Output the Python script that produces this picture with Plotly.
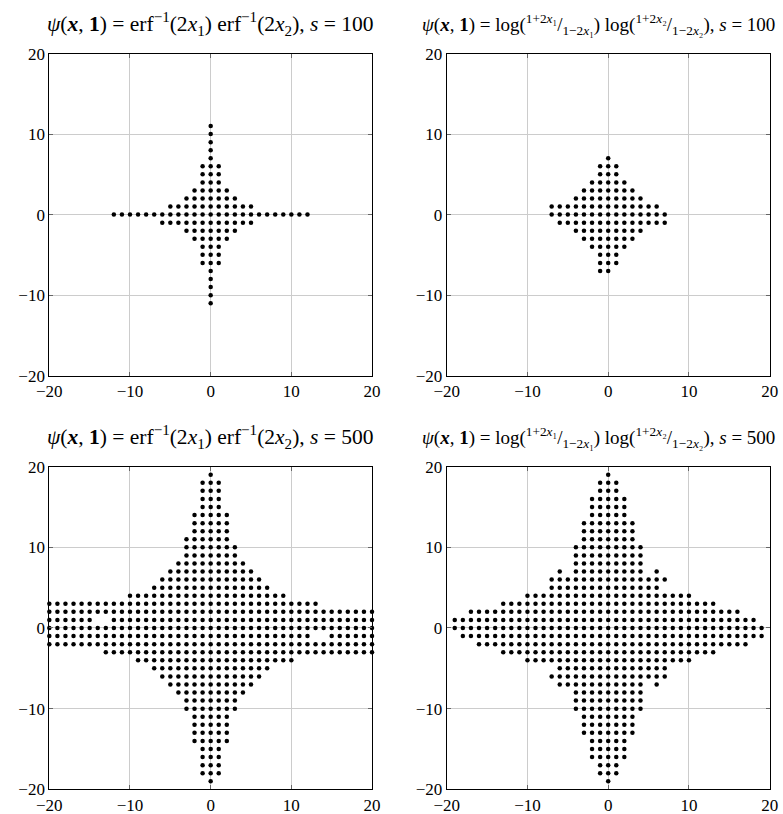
import plotly.graph_objects as go

# lattice points, one entry per row: (y, [(x_from, x_to), ...])
erf_s100 = [
    (11, [(0, 0)]), (10, [(0, 0)]), (9, [(0, 0)]), (8, [(0, 0)]), (7, [(0, 0)]),
    (6, [(-1, 1)]), (5, [(-1, 1)]), (4, [(-1, 1)]), (3, [(-2, 2)]), (2, [(-3, 3)]),
    (1, [(-5, 5)]), (0, [(-12, 12)]), (-1, [(-6, 5)]), (-2, [(-3, 3)]), (-3, [(-2, 2)]),
    (-4, [(-1, 1)]), (-5, [(-1, 1)]), (-6, [(-1, 1)]), (-7, [(0, 0)]), (-8, [(0, 0)]),
    (-9, [(0, 0)]), (-10, [(0, 0)]), (-11, [(0, 0)]),
]

log_s100 = [
    (7, [(0, 0)]), (6, [(-1, 1)]), (5, [(-1, 1)]), (4, [(-2, 2)]), (3, [(-3, 3)]),
    (2, [(-4, 4)]), (1, [(-7, 6)]), (0, [(-7, 7)]), (-1, [(-6, 7)]), (-2, [(-4, 4)]),
    (-3, [(-3, 3)]), (-4, [(-2, 2)]), (-5, [(-1, 1)]), (-6, [(-1, 1)]), (-7, [(-1, 0)]),
]

erf_s500 = [
    (19, [(0, 0)]), (18, [(-1, 1)]), (17, [(-1, 1)]), (16, [(-1, 1)]), (15, [(-1, 1)]),
    (14, [(-2, 2)]), (13, [(-2, 2)]), (12, [(-2, 2)]), (11, [(-3, 2)]), (10, [(-3, 3)]),
    (9, [(-3, 3)]), (8, [(-4, 4)]), (7, [(-5, 5)]), (6, [(-6, 6)]), (5, [(-7, 7)]),
    (4, [(-10, 9)]), (3, [(-20, 13)]), (2, [(-20, 20)]), (1, [(-20, -15), (-12, 20)]),
    (0, [(-20, 20)]), (-1, [(-20, 12), (15, 20)]), (-2, [(-20, 20)]), (-3, [(-13, 20)]),
    (-4, [(-9, 10)]), (-5, [(-7, 7)]), (-6, [(-6, 6)]), (-7, [(-5, 5)]), (-8, [(-4, 4)]),
    (-9, [(-3, 3)]), (-10, [(-3, 3)]), (-11, [(-2, 2)]), (-12, [(-2, 2)]), (-13, [(-2, 2)]),
    (-14, [(-2, 2)]), (-15, [(-1, 1)]), (-16, [(-1, 1)]), (-17, [(-1, 1)]), (-18, [(-1, 1)]),
    (-19, [(0, 0)]),
]

log_s500 = [
    (19, [(0, 0)]), (18, [(-1, 1)]), (17, [(-1, 1)]), (16, [(-2, 2)]), (15, [(-2, 2)]),
    (14, [(-2, 2)]), (13, [(-3, 3)]), (12, [(-3, 3)]), (11, [(-3, 3)]), (10, [(-4, 4)]),
    (9, [(-4, 4)]), (8, [(-4, 4)]), (7, [(-6, -6), (-4, 4), (6, 6)]), (6, [(-7, 7)]),
    (5, [(-7, 6)]), (4, [(-10, 10)]), (3, [(-13, 13)]), (2, [(-17, 16)]), (1, [(-19, 18)]),
    (0, [(-19, 19)]), (-1, [(-18, 19)]), (-2, [(-16, 17)]), (-3, [(-13, 13)]),
    (-4, [(-10, 10)]), (-5, [(-6, 7)]), (-6, [(-7, 7)]), (-7, [(-6, 4), (6, 6)]),
    (-8, [(-4, 4)]), (-9, [(-4, 4)]), (-10, [(-4, 4)]), (-11, [(-3, 3)]), (-12, [(-3, 3)]),
    (-13, [(-3, 3)]), (-14, [(-2, 2)]), (-15, [(-2, 2)]), (-16, [(-2, 2)]),
    (-17, [(-1, 1)]), (-18, [(-1, 1)]), (-19, [(0, 0)]),
]

tick_vals = [-20, -10, 0, 10, 20]

psi = '<i>ψ</i>(<b><i>x</i></b>, <b>1</b>) = '
erf_title = psi + 'erf<sup>−1</sup>(2<i>x</i><sub>1</sub>) erf<sup>−1</sup>(2<i>x</i><sub>2</sub>), <i>s</i> = '
log_title = (psi + 'log(<sup>1+2<i>x</i>₁</sup>/<sub>1−2<i>x</i>₁</sub>) '
             'log(<sup>1+2<i>x</i>₂</sup>/<sub>1−2<i>x</i>₂</sub>), <i>s</i> = ')

# (rows, title, title size, title x, x domain, y domain)
panels = [
    (erf_s100, erf_title + '100', 21.5, 0.269, [0.0630, 0.4751], [0.5385, 0.9342]),
    (log_s100, log_title + '100', 19, 0.765, [0.5705, 0.9830], [0.5385, 0.9342]),
    (erf_s500, erf_title + '500', 21.5, 0.269, [0.0630, 0.4751], [0.0303, 0.4267]),
    (log_s500, log_title + '500', 19, 0.765, [0.5705, 0.9830], [0.0303, 0.4267]),
]

FONT = 'Liberation Serif'


def expand(rows):
    xs, ys = [], []
    for y, spans in rows:
        for a, b in spans:
            for x in range(a, b + 1):
                xs.append(x)
                ys.append(y)
    return xs, ys


fig = go.Figure()
layout = {}
annotations = []

for i, (rows, title, tsize, tx, xdom, ydom) in enumerate(panels, start=1):
    xs, ys = expand(rows)
    suffix = '' if i == 1 else str(i)
    fig.add_trace(go.Scatter(
        x=xs, y=ys, mode='markers',
        marker=dict(size=4.5, color='black'),
        xaxis='x' + suffix, yaxis='y' + suffix,
        cliponaxis=False, showlegend=False
    ))
    axis = dict(
        range=[-20, 20], tickvals=tick_vals, showgrid=True, gridcolor='#cccccc',
        gridwidth=1, zeroline=False, showline=True, linecolor='black', linewidth=1,
        mirror='ticks', ticks='inside', ticklen=4, tickcolor='#666',
        tickfont=dict(family=FONT, size=17, color='black'), fixedrange=True,
        automargin=False
    )
    layout['xaxis' + suffix] = dict(axis, domain=xdom, anchor='y' + suffix)
    layout['yaxis' + suffix] = dict(axis, domain=ydom, anchor='x' + suffix)
    annotations.append(dict(
        text=title, x=tx, y=ydom[1] + 0.036, xref='paper', yref='paper',
        xanchor='center', yanchor='middle', showarrow=False,
        font=dict(family=FONT, size=tsize, color='black')
    ))

fig.update_layout(
    width=783, height=814, autosize=False,
    margin=dict(l=0, r=0, t=0, b=0, pad=0),
    paper_bgcolor='white', plot_bgcolor='white',
    showlegend=False,
    annotations=annotations,
    **layout
)

# drop the browser's default page margin so the figure sits at the window corner
fig.write_html("out.html", config={'displayModeBar': False},
               post_script="document.body.style.margin = '0';")
